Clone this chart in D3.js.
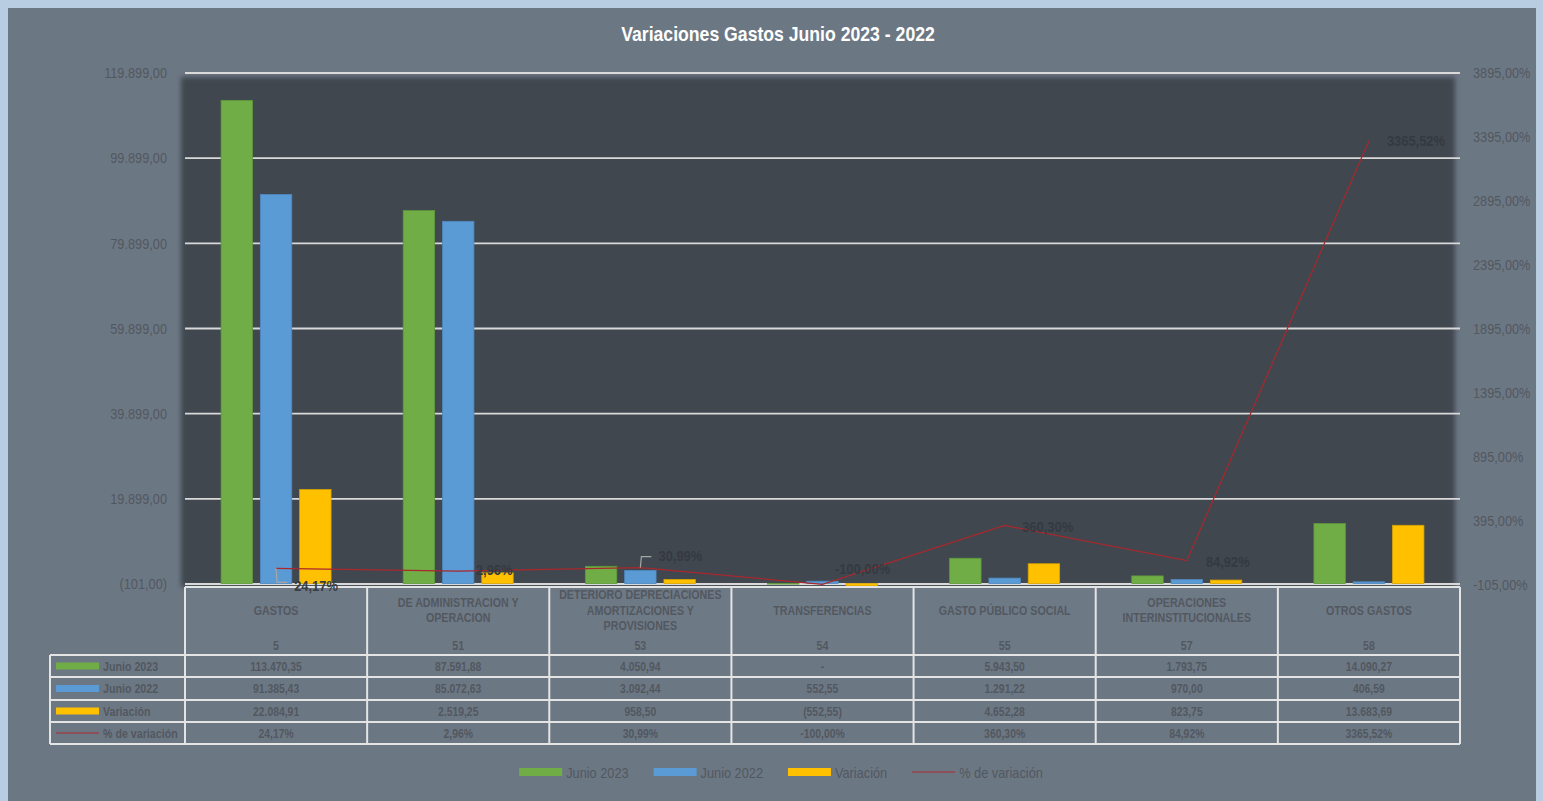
<!DOCTYPE html>
<html>
<head>
<meta charset="utf-8">
<script src="https://cdn.jsdelivr.net/npm/d3@7"></script>
<style>
  body { margin: 0; background: #b8cde1; }
  svg text { font-family: 'Liberation Sans Narrow', 'Arial Narrow', 'Liberation Sans', Arial, sans-serif; }
</style>
</head>
<body>
<svg id="chart" width="1543" height="801"></svg>
<script>
// datos del grafico
const categorias = ["GASTOS", "DE ADMINISTRACION Y OPERACION", "DETERIORO DEPRECIACIONES AMORTIZACIONES Y PROVISIONES",
  "TRANSFERENCIAS", "GASTO PÚBLICO SOCIAL", "OPERACIONES INTERINSTITUCIONALES", "OTROS GASTOS"];
const codigos = ["5", "51", "53", "54", "55", "57", "58"];
const junio2023 = [113470.35, 87591.88, 4050.94, 0, 5943.50, 1793.75, 14090.27];
const junio2022 = [91385.43, 85072.63, 3092.44, 552.55, 1291.22, 970.00, 406.59];
const variacion = [22084.91, 2519.25, 958.50, -552.55, 4652.28, 823.75, 13683.69];
const pctVariacion = [24.17, 2.96, 30.99, -100.00, 360.30, 84.92, 3365.52];
const ticksIzq = [-101, 19899, 39899, 59899, 79899, 99899, 119899];
const ticksDer = [-105, 395, 895, 1395, 1895, 2395, 2895, 3395, 3895];
const seriesNombres = ["Junio 2023", "Junio 2022", "Variación"];
const lineaNombre = "% de variación";
const titulo = "Variaciones Gastos Junio 2023 - 2022";

// estilos y posiciones
const colores = ["#70ad47", "#5b9bd5", "#ffc000"];
const bordes = ["#5e9a3a", "#4d88c0", "#d9a300"];
const colorLinea = "#a8282d";
const colorTexto = "#52585f";
// ajuste de las etiquetas del % (dx, dy)
const ajusteEtiquetas = [[40, 17], [36, -2], [40, -12], [40, -16], [43, 1], [41, 1], [47, 0]];

const loc = d3.formatLocale({decimal: ",", thousands: ".", grouping: [3], currency: ["", ""], minus: "-"});
const fmtNum = loc.format(",.2f");
const fmtPct = v => loc.format(".2f")(v) + "%";
function fmtContable(v) {
  if (v === 0) return "-";
  return v < 0 ? "(" + fmtNum(-v) + ")" : fmtNum(v);
}

// no hay fuente estrecha: se comprime el texto a lo ancho
function estrechar(sel, f) {
  sel.each(function() {
    const l = this.getComputedTextLength();
    d3.select(this).attr("textLength", l * f).attr("lengthAdjust", "spacingAndGlyphs");
  });
}

const svg = d3.select("#chart");
const W = 1543, H = 801;
const plot = {left: 185, right: 1460, top: 73, bottom: 584};

const defs = svg.append("defs");
defs.append("filter").attr("id", "blur").attr("x", "-5%").attr("y", "-5%").attr("width", "110%").attr("height", "110%")
  .append("feGaussianBlur").attr("stdDeviation", 2.5);

// fondo
svg.append("rect").attr("width", W).attr("height", H).attr("fill", "#b8cde1");
svg.append("rect").attr("x", 8).attr("y", 8).attr("width", 1528).attr("height", H - 8).attr("fill", "#6c7784");

// titulo
svg.append("text").attr("x", 778).attr("y", 33).attr("text-anchor", "middle").attr("dominant-baseline", "central")
  .attr("fill", "#ffffff").attr("font-weight", "bold").attr("font-size", 20.5).text(titulo)
  .call(estrechar, 0.86);

// area de trazado oscura
svg.append("rect").attr("x", 181).attr("y", 77).attr("width", 1274).attr("height", 510)
  .attr("fill", "#40474f").attr("filter", "url(#blur)");

// escalas
const x = d3.scaleBand().domain(categorias).range([plot.left, plot.right]).padding(0);
const xSub = d3.scaleBand().domain(seriesNombres).range([-55, 55]).paddingInner(0.2);
const yIzq = d3.scaleLinear().domain([-101, 119899]).range([plot.bottom, plot.top]);
const yDer = d3.scaleLinear().domain([-105, 3895]).range([plot.bottom + 1, plot.top]);
const centro = c => x(c) + x.bandwidth() / 2;

// lineas de cuadricula
svg.append("g").selectAll("line").data(ticksIzq).join("line")
  .attr("x1", plot.left).attr("x2", plot.right)
  .attr("y1", d => yIzq(d)).attr("y2", d => yIzq(d))
  .attr("stroke", "#d9d9d9").attr("stroke-width", 1.8);

// ejes
const ejeIzq = svg.append("g").attr("transform", `translate(${plot.left},0)`)
  .call(d3.axisLeft(yIzq).tickValues(ticksIzq).tickFormat(fmtContable).tickSize(0).tickPadding(18));
const ejeDer = svg.append("g").attr("transform", `translate(${plot.right},0)`)
  .call(d3.axisRight(yDer).tickValues(ticksDer).tickFormat(fmtPct).tickSize(0).tickPadding(13));
[ejeIzq, ejeDer].forEach(g => {
  g.select(".domain").remove();
  g.selectAll("text").attr("fill", colorTexto).attr("font-size", 15).call(estrechar, 0.85);
});

// barras
const valoresSeries = [junio2023, junio2022, variacion];
seriesNombres.forEach((s, si) => {
  svg.append("g").selectAll("rect").data(categorias).join("rect")
    .attr("x", c => centro(c) + xSub(s))
    .attr("width", xSub.bandwidth())
    .attr("y", (c, i) => Math.min(yIzq(valoresSeries[si][i]), yIzq(0)))
    .attr("height", (c, i) => Math.max(Math.abs(yIzq(0) - yIzq(valoresSeries[si][i])), 0.5))
    .attr("fill", colores[si]).attr("stroke", bordes[si]).attr("stroke-width", 0.8);
});

// linea de % de variacion
const linea = d3.line().x((d, i) => centro(categorias[i])).y(d => yDer(d));
svg.append("path").datum(pctVariacion).attr("d", linea)
  .attr("fill", "none").attr("stroke", colorLinea).attr("stroke-width", 1.2);

// lineas guia de etiquetas
const guias = svg.append("g").attr("fill", "none").attr("stroke", "#a6a6a6").attr("stroke-width", 1.2);
[0, 2].forEach(i => {
  const px = centro(categorias[i]), py = yDer(pctVariacion[i]);
  const ly = py + ajusteEtiquetas[i][1] - (ajusteEtiquetas[i][1] > 0 ? 3 : -1);
  guias.append("path").attr("d", `M${px},${py} L${px + 1},${ly} L${px + 11},${ly}`);
});

// tabla de datos
const filaY = [587, 655, 677, 700, 722, 744];
const tabla = svg.append("g");
const colorBorde = "#e4e4e4";
tabla.append("rect").attr("x", plot.left).attr("y", filaY[0]).attr("width", plot.right - plot.left)
  .attr("height", filaY[1] - filaY[0]).attr("fill", "#6e7986");

const fs = 13.5, fEst = 0.79;
// etiquetas de categoria con salto de linea
function partirTexto(txt, ancho, size) {
  const tmp = svg.append("text").attr("font-size", size).attr("font-weight", "bold");
  const palabras = txt.split(" ");
  const lineas = [];
  let actual = [];
  palabras.forEach(p => {
    const prueba = actual.concat([p]).join(" ");
    tmp.text(prueba);
    if (tmp.node().getComputedTextLength() * fEst > ancho && actual.length) {
      lineas.push(actual.join(" "));
      actual = [p];
    } else {
      actual.push(p);
    }
  });
  lineas.push(actual.join(" "));
  tmp.remove();
  return lineas;
}

categorias.forEach((c, i) => {
  const lineas = partirTexto(c, 170, fs);
  lineas.forEach((l, k) => {
    tabla.append("text").attr("x", centro(c)).attr("y", 610 + (k - (lineas.length - 1) / 2) * 15.5)
      .attr("text-anchor", "middle").attr("dominant-baseline", "central")
      .attr("font-size", fs).attr("font-weight", "bold").attr("fill", colorTexto).text(l)
      .call(estrechar, fEst);
  });
  tabla.append("text").attr("x", centro(c)).attr("y", 645).attr("text-anchor", "middle")
    .attr("dominant-baseline", "central").attr("font-size", fs).attr("font-weight", "bold")
    .attr("fill", colorTexto).text(codigos[i]).call(estrechar, fEst);
});

const filas = [
  {nombre: seriesNombres[0], valores: junio2023.map(fmtContable)},
  {nombre: seriesNombres[1], valores: junio2022.map(fmtContable)},
  {nombre: seriesNombres[2], valores: variacion.map(fmtContable)},
  {nombre: lineaNombre, valores: pctVariacion.map(fmtPct)}
];
filas.forEach((f, r) => {
  const yc = (filaY[r + 1] + filaY[r + 2]) / 2;
  if (r < 3) {
    tabla.append("rect").attr("x", 56).attr("y", yc - 3.5).attr("width", 43).attr("height", 7).attr("fill", colores[r]);
  } else {
    tabla.append("line").attr("x1", 56).attr("x2", 99).attr("y1", yc).attr("y2", yc)
      .attr("stroke", colorLinea).attr("stroke-width", 1);
  }
  tabla.append("text").attr("x", 103).attr("y", yc).attr("dominant-baseline", "central")
    .attr("font-size", fs).attr("font-weight", "bold").attr("fill", colorTexto).text(f.nombre)
    .call(estrechar, fEst);
  f.valores.forEach((v, i) => {
    tabla.append("text").attr("x", centro(categorias[i])).attr("y", yc).attr("text-anchor", "middle")
      .attr("dominant-baseline", "central").attr("font-size", fs).attr("font-weight", "bold")
      .attr("fill", colorTexto).text(v).call(estrechar, 0.77);
  });
});

// bordes de la tabla
const bordesTabla = tabla.append("g").attr("stroke", colorBorde).attr("stroke-width", 2);
bordesTabla.append("line").attr("x1", plot.left).attr("x2", plot.right).attr("y1", filaY[0]).attr("y2", filaY[0]);
filaY.slice(1).forEach(y => {
  bordesTabla.append("line").attr("x1", 50).attr("x2", plot.right).attr("y1", y).attr("y2", y);
});
categorias.forEach(c => {
  bordesTabla.append("line").attr("x1", x(c)).attr("x2", x(c)).attr("y1", filaY[0]).attr("y2", filaY[5]);
});
bordesTabla.append("line").attr("x1", plot.right).attr("x2", plot.right).attr("y1", filaY[0]).attr("y2", filaY[5]);
bordesTabla.append("line").attr("x1", 50).attr("x2", 50).attr("y1", filaY[1]).attr("y2", filaY[5]);

// etiquetas de datos del %
svg.append("g").selectAll("text").data(pctVariacion).join("text")
  .attr("x", (d, i) => centro(categorias[i]) + ajusteEtiquetas[i][0])
  .attr("y", (d, i) => yDer(d) + ajusteEtiquetas[i][1])
  .attr("text-anchor", "middle").attr("dominant-baseline", "central")
  .attr("font-size", 15).attr("font-weight", "bold")
  .attr("fill", (d, i) => i === 0 ? "#3a3d41" : "#353a40")
  .text(fmtPct).call(estrechar, 0.86);

// leyenda inferior
const leyenda = svg.append("g");
const itemsLeyenda = seriesNombres.concat([lineaNombre]);
let lx = 0;
itemsLeyenda.forEach((n, i) => {
  const g = leyenda.append("g").attr("transform", `translate(${lx},0)`);
  if (i < 3) {
    g.append("rect").attr("x", 0).attr("y", -4).attr("width", 43).attr("height", 8).attr("fill", colores[i]);
  } else {
    g.append("line").attr("x1", 0).attr("x2", 43).attr("y1", 0).attr("y2", 0).attr("stroke", colorLinea).attr("stroke-width", 1);
  }
  const t = g.append("text").attr("x", 47).attr("y", 0).attr("dominant-baseline", "central")
    .attr("font-size", 15).attr("fill", colorTexto).text(n);
  const ancho = t.node().getComputedTextLength() * 0.85;
  estrechar(t, 0.85);
  lx += 47 + ancho + 25;
});
const anchoLeyenda = lx - 25;
leyenda.attr("transform", `translate(${781 - anchoLeyenda / 2},772)`);
</script>
</body>
</html>
